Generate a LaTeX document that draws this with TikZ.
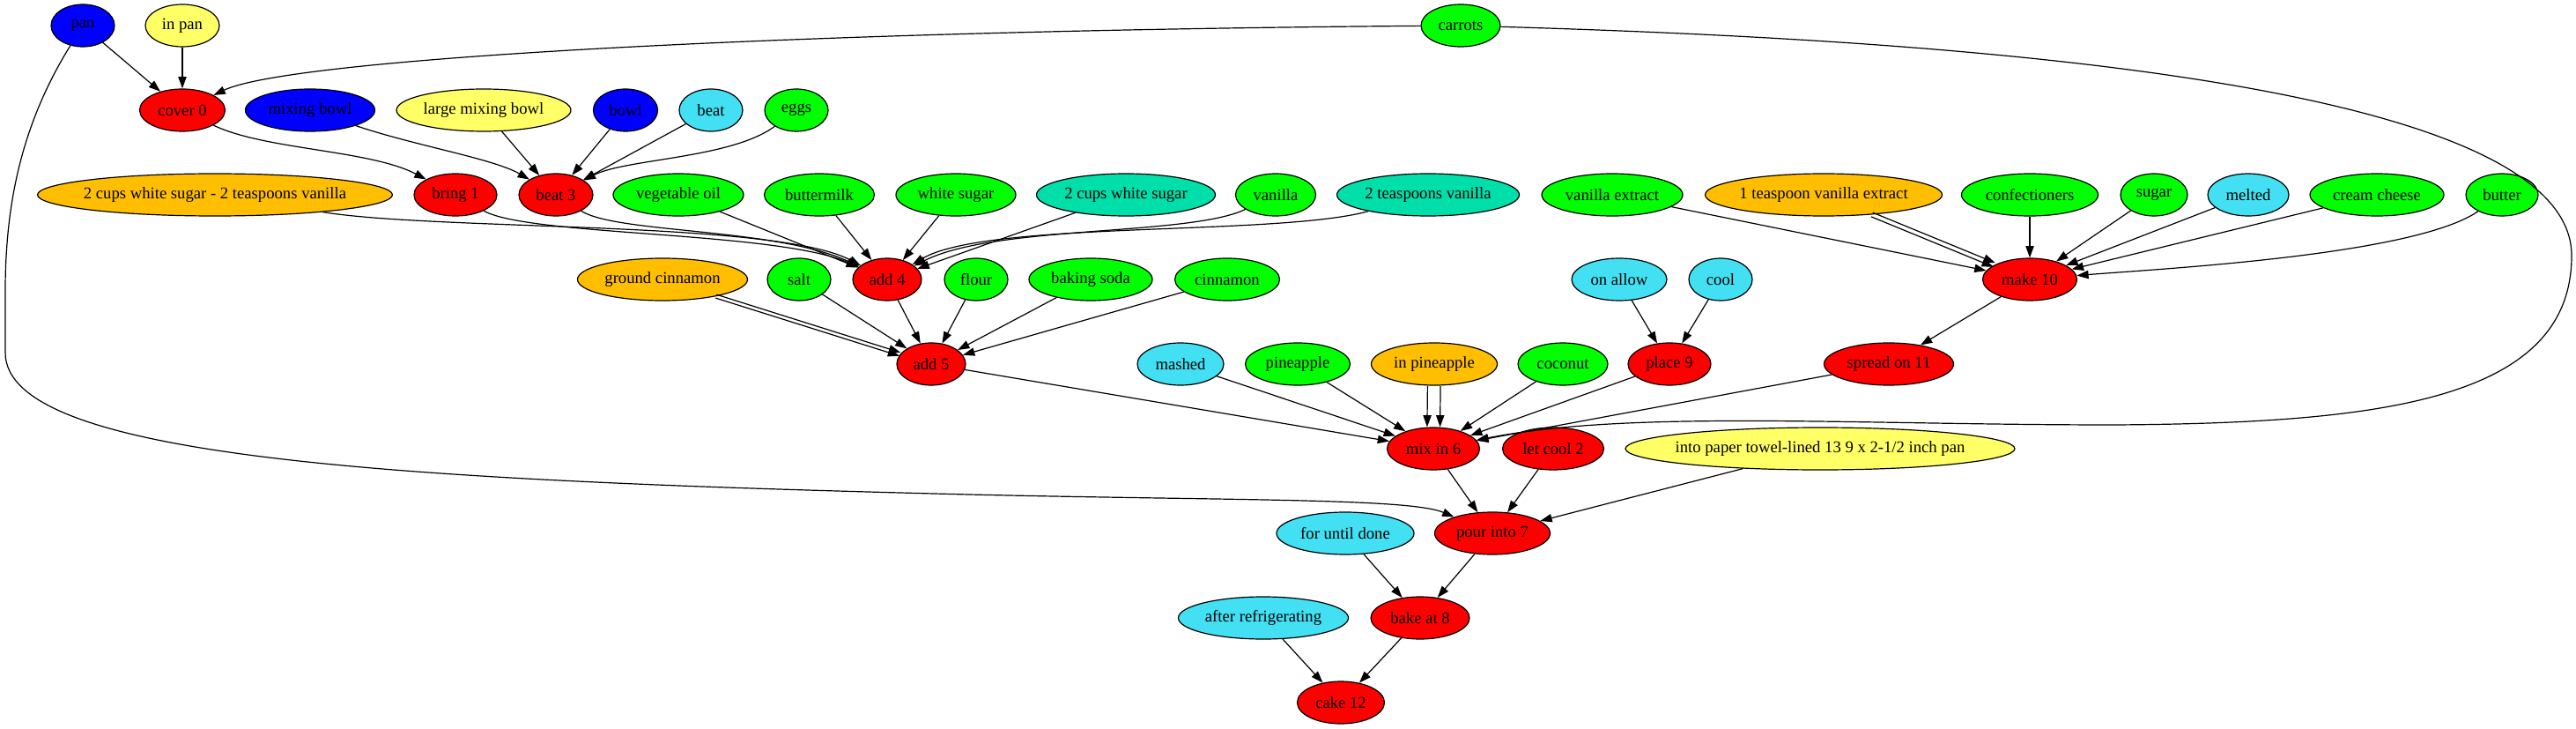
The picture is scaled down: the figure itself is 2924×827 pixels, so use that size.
\documentclass[tikz,border=0pt]{standalone}
\usepackage{fontspec}
\setmainfont{Liberation Serif}
\usetikzlibrary{shapes.geometric,arrows.meta}
\definecolor{cRed}{HTML}{FF0000}
\definecolor{cGreen}{HTML}{00FF00}
\definecolor{cBlue}{HTML}{0000FF}
\definecolor{cYellow}{HTML}{FFFF66}
\definecolor{cCyan}{HTML}{42E0F2}
\definecolor{cAmber}{HTML}{FFBF00}
\definecolor{cTeal}{HTML}{00DFAA}
\newcommand\tx[1]{\makebox[0pt]{#1}}
\begin{document}
\begin{tikzpicture}[x=0.75pt,y=-0.75pt,
  nd/.style={ellipse,draw=black,line width=0.9pt,inner sep=0pt,minimum height=36pt,font=\fontsize{14}{16}\selectfont},
  wd/.style={minimum width=#1*0.75pt},
  red/.style={fill=cRed}, grn/.style={fill=cGreen}, blu/.style={fill=cBlue},
  yel/.style={fill=cYellow}, cya/.style={fill=cCyan}, amb/.style={fill=cAmber}, tea/.style={fill=cTeal},
  edge/.style={-{Triangle[length=10pt,width=7pt]},line width=0.9pt,black}]
\useasboundingbox (0,0) rectangle (2924,827);
% row 1
\node[nd,blu,wd=72] (pan) at (94,29) {\tx{pan}};
\node[nd,yel,wd=84] (inpan) at (207,29) {\tx{in pan}};
\node[nd,grn,wd=90] (carrots) at (1658,29) {\tx{carrots}};
% row 2
\node[nd,red,wd=97] (cover0) at (207,125) {\tx{cover 0}};
\node[nd,blu,wd=147] (mixbowl) at (352,125) {\tx{mixing bowl}};
\node[nd,yel,wd=198] (lmixbowl) at (549,125) {\tx{large mixing bowl}};
\node[nd,blu,wd=73] (bowl) at (710,125) {\tx{bowl}};
\node[nd,cya,wd=72] (beat) at (807,125) {\tx{beat}};
\node[nd,grn,wd=72] (eggs) at (904,125) {\tx{eggs}};
% row 3
\node[nd,amb,wd=403] (cupsvan) at (244,221) {\tx{2 cups white sugar - 2 teaspoons vanilla}};
\node[nd,red,wd=94] (bring1) at (517,221) {\tx{bring 1}};
\node[nd,red,wd=84] (beat3) at (631,221) {\tx{beat 3}};
\node[nd,grn,wd=148] (vegoil) at (770,221) {\tx{vegetable oil}};
\node[nd,grn,wd=125] (buttermilk) at (930,221) {\tx{buttermilk}};
\node[nd,grn,wd=136] (wsugar) at (1085,221) {\tx{white sugar}};
\node[nd,tea,wd=203] (cupsws) at (1278,221) {\tx{2 cups white sugar}};
\node[nd,grn,wd=91] (vanilla) at (1448,221) {\tx{vanilla}};
\node[nd,tea,wd=207] (tspvan) at (1621,221) {\tx{2 teaspoons vanilla}};
\node[nd,grn,wd=160] (vanext) at (1830,221) {\tx{vanilla extract}};
\node[nd,amb,wd=269] (tspvanext) at (2070,221) {\tx{1 teaspoon vanilla extract}};
\node[nd,grn,wd=155] (confect) at (2304,221) {\tx{confectioners}};
\node[nd,grn,wd=76] (sugar) at (2445,221) {\tx{sugar}};
\node[nd,cya,wd=92] (melted) at (2552,221) {\tx{melted}};
\node[nd,grn,wd=152] (cream) at (2698,221) {\tx{cream cheese}};
\node[nd,grn,wd=82] (butter) at (2840,221) {\tx{butter}};
% row 4
\node[nd,amb,wd=193] (gcin) at (752,317) {\tx{ground cinnamon}};
\node[nd,grn,wd=72] (salt) at (907,317) {\tx{salt}};
\node[nd,red,wd=78] (add4) at (1007,317) {\tx{add 4}};
\node[nd,grn,wd=72] (flour) at (1108,317) {\tx{flour}};
\node[nd,grn,wd=140] (bsoda) at (1238,317) {\tx{baking soda}};
\node[nd,grn,wd=119] (cinnamon) at (1393,317) {\tx{cinnamon}};
\node[nd,cya,wd=108] (onallow) at (1838,317) {\tx{on allow}};
\node[nd,cya,wd=72] (cool) at (1953,317) {\tx{cool}};
\node[nd,red,wd=107] (make10) at (2304,317) {\tx{make 10}};
% row 5
\node[nd,red,wd=78] (add5) at (1057,413) {\tx{add 5}};
\node[nd,cya,wd=98] (mashed) at (1340,413) {\tx{mashed}};
\node[nd,grn,wd=119] (pineapple) at (1473,413) {\tx{pineapple}};
\node[nd,amb,wd=143] (inpine) at (1628,413) {\tx{in pineapple}};
\node[nd,grn,wd=102] (coconut) at (1774,413) {\tx{coconut}};
\node[nd,red,wd=94] (place9) at (1895,413) {\tx{place 9}};
\node[nd,red,wd=147] (spread11) at (2144,413) {\tx{spread on 11}};
% row 6
\node[nd,red,wd=105] (mix6) at (1627,509) {\tx{mix in 6}};
\node[nd,red,wd=115] (letcool2) at (1763,509) {\tx{let cool 2}};
\node[nd,yel,wd=442] (paper) at (2066,509) {\tx{into paper towel-lined 13 9 x 2-1/2 inch pan}};
% row 7-9
\node[nd,cya,wd=156] (untildone) at (1527,605) {\tx{for until done}};
\node[nd,red,wd=131] (pour7) at (1694,605) {\tx{pour into 7}};
\node[nd,cya,wd=193] (afterref) at (1434,701) {\tx{after refrigerating}};
\node[nd,red,wd=112] (bake8) at (1612,701) {\tx{bake at 8}};
\node[nd,red,wd=99] (cake12) at (1522,797) {\tx{cake 12}};

% long curves
\draw[edge] (carrots) .. controls (900,35) and (330,66) .. (cover0);
\draw[edge] (carrots) .. controls (2200,45) and (2919,90) .. (2919,290)
  .. controls (2919,455) and (2700,480) .. (2400,482)
  .. controls (2100,482) and (1850,465) .. (mix6);
\draw[edge] (pan) .. controls (25,140) and (6,230) .. (6,330) -- (6,400)
  .. controls (6,520) and (450,545) .. (1100,561)
  .. controls (1400,568) and (1600,565) .. (pour7);
% to cover 0 / bring 1 / beat 3
\draw[edge] (pan) -- (cover0);
\draw[edge] (inpan) -- (cover0);
\draw[edge] (cover0) .. controls (300,170) and (420,170) .. (bring1);
\draw[edge] (mixbowl) .. controls (470,165) and (560,180) .. (beat3);
\draw[edge] (lmixbowl) -- (beat3);
\draw[edge] (bowl) -- (beat3);
\draw[edge] (beat) -- (beat3);
\draw[edge] (eggs) .. controls (830,180) and (710,180) .. (beat3);
% to add 4
\draw[edge] (cupsvan) .. controls (500,262) and (880,250) .. (add4);
\draw[edge] (bring1) .. controls (600,268) and (880,262) .. (add4);
\draw[edge] (beat3) .. controls (700,265) and (880,258) .. (add4);
\draw[edge] (vegoil) -- (add4);
\draw[edge] (buttermilk) -- (add4);
\draw[edge] (wsugar) -- (add4);
\draw[edge] (cupsws) -- (add4);
\draw[edge] (vanilla) .. controls (1350,268) and (1130,255) .. (add4);
\draw[edge] (tspvan) .. controls (1450,268) and (1120,250) .. (add4);
% to add 5
\draw[edge,transform canvas={xshift=-0.4pt,yshift=-1.45pt}] (gcin) -- (add5);
\draw[edge,transform canvas={xshift=0.4pt,yshift=1.45pt}] (gcin) -- (add5);
\draw[edge] (salt) -- (add5);
\draw[edge] (add4) -- (add5);
\draw[edge] (flour) -- (add5);
\draw[edge] (bsoda) -- (add5);
\draw[edge] (cinnamon) -- (add5);
% to make 10
\draw[edge] (vanext) -- (make10);
\draw[edge,transform canvas={xshift=-0.7pt,yshift=-1.75pt}] (tspvanext) -- (make10);
\draw[edge,transform canvas={xshift=0.7pt,yshift=1.75pt}] (tspvanext) -- (make10);
\draw[edge] (confect) -- (make10);
\draw[edge] (sugar) -- (make10);
\draw[edge] (melted) -- (make10);
\draw[edge] (cream) -- (make10);
\draw[edge] (butter) .. controls (2740,290) and (2450,305) .. (make10);
% place 9, spread on 11
\draw[edge] (onallow) -- (place9);
\draw[edge] (cool) -- (place9);
\draw[edge] (make10) -- (spread11);
% to mix in 6
\draw[edge] (add5) -- (mix6);
\draw[edge] (mashed) -- (mix6);
\draw[edge] (pineapple) -- (mix6);
\draw[edge,transform canvas={xshift=-5.5pt}] (inpine) -- (mix6);
\draw[edge,transform canvas={xshift=5.5pt}] (inpine) -- (mix6);
\draw[edge] (coconut) -- (mix6);
\draw[edge] (place9) -- (mix6);
\draw[edge] (spread11) -- (mix6);
% lower chain
\draw[edge] (mix6) -- (pour7);
\draw[edge] (letcool2) -- (pour7);
\draw[edge] (paper) -- (pour7);
\draw[edge] (untildone) -- (bake8);
\draw[edge] (pour7) -- (bake8);
\draw[edge] (afterref) -- (cake12);
\draw[edge] (bake8) -- (cake12);
\end{tikzpicture}
\end{document}
